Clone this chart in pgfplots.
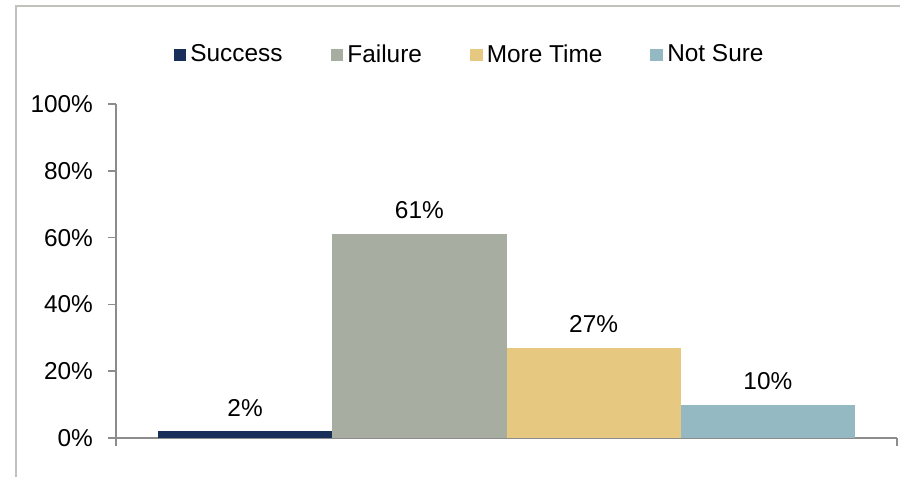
\documentclass[border=0pt]{standalone}
\usepackage{fontspec}
\setmainfont{Liberation Sans}
\usepackage{pgfplots}
\pgfplotsset{compat=1.18}
\definecolor{csucc}{RGB}{24,48,89}
\definecolor{cfail}{RGB}{168,173,162}
\definecolor{cmore}{RGB}{230,200,128}
\definecolor{csure}{RGB}{148,185,194}
\definecolor{frame}{RGB}{192,195,186}
\definecolor{axisgray}{RGB}{140,140,140}
\begin{document}
\begin{tikzpicture}
% 1px = 0.5pt, origin at top-left of the picture
\useasboundingbox (0,0) rectangle (450pt,-238.5pt);
\draw[frame, line width=0.8pt] (8pt,-238.5pt) -- (8pt,-3pt) -- (450pt,-3pt);
\begin{axis}[
    at={(58pt,-219pt)}, anchor=south west,
    width=390.5pt, height=167pt, scale only axis,
    xmin=0.259, xmax=4.741, ymin=0, ymax=100,
    axis y line*=left, axis x line*=bottom,
    axis line style={axisgray, line width=0.8pt},
    every tick/.style={axisgray, line width=0.8pt},
    tick align=outside, major tick length=4pt,
    xtick={0.259,4.741}, xticklabels={,},
    ytick={0,20,40,60,80,100},
    yticklabel={\pgfmathprintnumber{\tick}\%},
    yticklabel style={xshift=-4pt},
    /pgf/number format/assume math mode=true,
    tick label style={font=\fontsize{12.2}{14}\selectfont},
    ybar, bar width=1, bar shift=0pt,
    nodes near coords={\pgfmathprintnumber{\pgfplotspointmeta}\%},
    every node near coord/.append style={font=\fontsize{12.2}{14}\selectfont, black, yshift=4pt},
    legend columns=4,
    legend style={at={(0.454,1.147)}, anchor=center, draw=none, fill=none,
        font=\fontsize{12.2}{14}\selectfont,
        /tikz/every even column/.append style={column sep=22pt}},
    legend image code/.code={\fill[#1] (0pt,-3.2pt) rectangle (6.4pt,3.2pt);},
]
\addplot[fill=csucc, draw=none] coordinates {(1,2)};
\addplot[fill=cfail, draw=none] coordinates {(2,61)};
\addplot[fill=cmore, draw=none] coordinates {(3,27)};
\addplot[fill=csure, draw=none] coordinates {(4,10)};
\legend{Success, Failure, More Time, Not Sure}
\end{axis}
\end{tikzpicture}
\end{document}
